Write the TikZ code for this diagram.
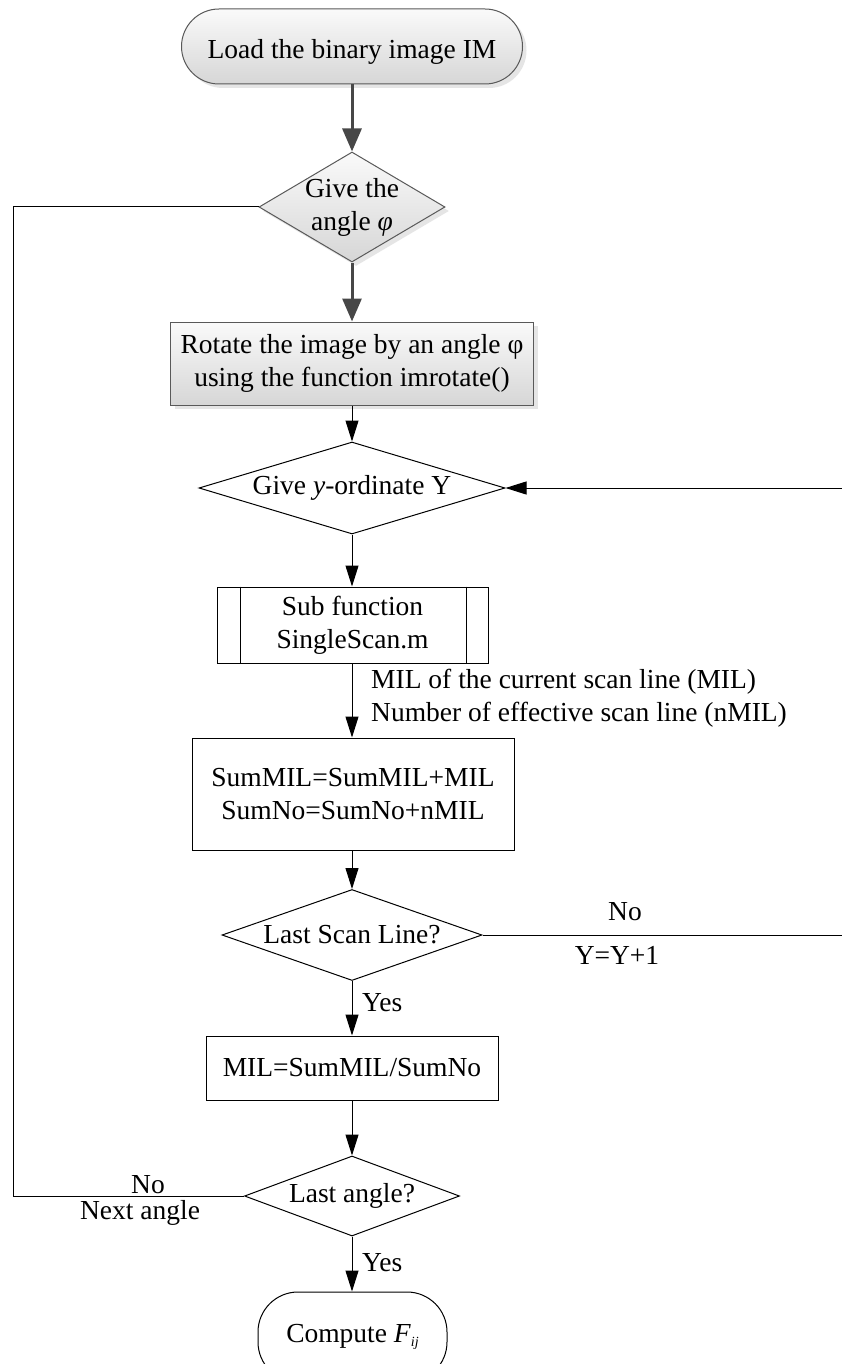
\documentclass[tikz,border=0pt]{standalone}
\usepackage{fontspec}
\setmainfont{Liberation Serif}
\usetikzlibrary{arrows.meta,shapes.geometric,shadows}
\newcommand\myfs{\fontsize{27.5}{33}\selectfont}
\begin{document}
\begin{tikzpicture}[x=1pt,y=-1pt, font=\myfs,
  every node/.style={inner sep=0pt},
  ln/.style={line width=1pt, draw=black},
  arr/.style={line width=1pt, draw=black, -{Triangle[length=21pt,width=13pt]}},
  garr/.style={line width=3pt, draw=black!72, -{Triangle[length=23pt,width=19pt,fill=black!72]}},
  gfill/.style={draw=black!65, line width=1pt, top color=black!2, bottom color=black!16,
    drop shadow={shadow xshift=4pt, shadow yshift=-4pt, fill=black!20}},
  plain/.style={draw=black, line width=1pt},
  dia/.style={shape=diamond, inner sep=0pt},
]
\useasboundingbox (0,0) rectangle (842,1364);
\clip (0,0) rectangle (842,1364);
\fill[white] (0,0) rectangle (842,1364);

% nodes
\node[gfill, rounded corners=37.5pt, minimum width=341pt, minimum height=75pt,
  label={[yshift=-5pt]center:{Load the binary image IM}}] (load) at (352,46.5) {};
\node[gfill, dia, minimum width=186pt, minimum height=110pt,
  label={[align=center]center:{Give the\\angle \textit{φ}}}] (d1) at (352,207) {};
\node[gfill, minimum width=363pt, minimum height=83pt, align=center] (rot) at (352,363.5)
  {Rotate the image by an angle φ\\using the function imrotate()};
\node[plain, dia, minimum width=306pt, minimum height=92pt,
  label={center:{Give \textit{y}-ordinate Y}}] (d2) at (352,488) {};
\node[plain, minimum width=271pt, minimum height=76pt, align=center] (sub) at (352.5,625)
  {Sub function\\SingleScan.m};
\draw[ln] ([xshift=24pt]sub.north west) -- ([xshift=24pt]sub.south west);
\draw[ln] ([xshift=-22pt]sub.north east) -- ([xshift=-22pt]sub.south east);
\node[plain, minimum width=322pt, minimum height=112pt, align=center] (sum) at (353,794)
  {SumMIL=SumMIL+MIL\\SumNo=SumNo+nMIL};
\node[plain, dia, minimum width=260pt, minimum height=91pt,
  label={center:{Last Scan Line?}}] (d3) at (352,935) {};
\node[plain, minimum width=292pt, minimum height=64pt] (mil) at (352,1068) {MIL=SumMIL/SumNo};
\node[plain, dia, minimum width=215pt, minimum height=80pt,
  label={center:{Last angle?}}] (d4) at (352,1196) {};
\node[plain, rounded corners=40pt, minimum width=189pt, minimum height=90pt] (comp) at (352.5,1337)
  {Compute \textit{F}\raisebox{-4pt}{\fontsize{14}{14}\selectfont\textit{ij}}};

% labels
\node[anchor=west, align=left] (lab1) at (371,698.5)
  {MIL of the current scan line (MIL)\\Number of effective scan line (nMIL)};
\node[anchor=west] (yes1) at (362,1003) {Yes};
\node[anchor=west] (yes2) at (362,1263) {Yes};
\node (no1) at (625,912) {No};
\node (yy) at (617,955) {Y=Y+1};
\node (no2) at (148,1185) {No};
\node (next) at (140,1213) {Next angle};

% connectors
\draw[garr] (load.south) -- (d1.north);
\draw[garr] (d1.south) -- (rot.north);
\draw[arr] (rot.south) -- (d2.north);
\draw[arr] (d2.south) -- (sub.north -| d2.south);
\draw[arr] (sub.south -| d2.south) -- (sum.north -| d2.south);
\draw[arr] (sum.south -| d2.south) -- (d3.north);
\draw[arr] (d3.south) -- (mil.north);
\draw[arr] (mil.south) -- (d4.north);
\draw[arr] (d4.south) -- (comp.north -| d4.south);

\coordinate (cl1) at (13,1196);
\coordinate (cl2) at (13,207);
\draw[ln] (d4.west) -- (cl1) -- (cl2) -- (d1.west);
\coordinate (cr1) at (850,935);
\coordinate (cr2) at (850,488);
\draw[arr] (d3.east) -- (cr1) -- (cr2) -- (d2.east);
\end{tikzpicture}
\end{document}
